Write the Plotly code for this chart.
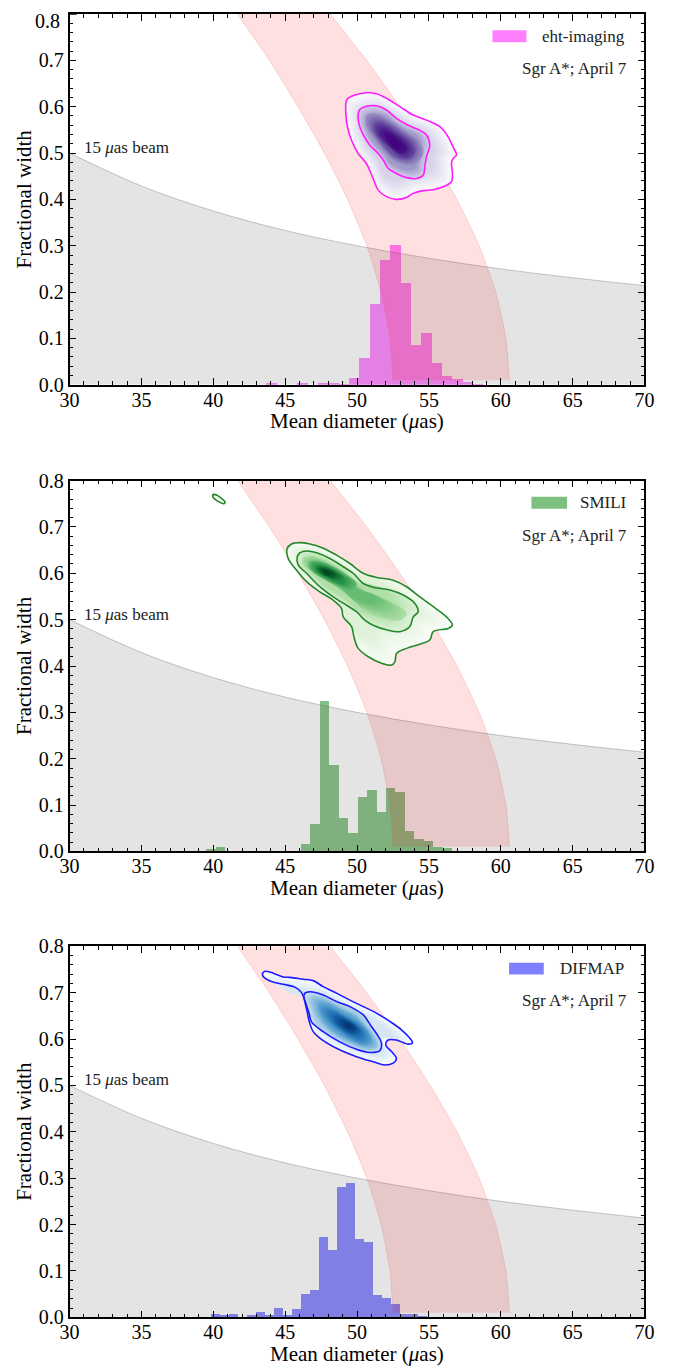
import plotly.graph_objects as go

# ---------------- data ----------------
X_TICKS = [30, 35, 40, 45, 50, 55, 60, 65, 70]
Y_TICKS = [0.0, 0.1, 0.2, 0.3, 0.4, 0.5, 0.6, 0.7, 0.8]

BEAM_D = [30, 35, 40, 45, 50, 55, 60, 65, 70]
BEAM_W = [0.500, 0.429, 0.375, 0.333, 0.300, 0.273, 0.250, 0.231, 0.214]

BAND_W = [0.01, 0.1, 0.2, 0.3, 0.4, 0.5, 0.6, 0.7, 0.8, 0.86]
BAND_LEFT = [52.50, 52.29, 51.67, 50.68, 49.34, 47.73, 45.89, 43.90, 41.70, 40.60]
BAND_RIGHT = [60.60, 60.36, 59.65, 58.49, 56.95, 55.09, 52.97, 50.67, 48.15, 46.90]

LABELS = ["eht-imaging", "SMILI", "DIFMAP"]
SUBTITLE = "Sgr A*; April 7"

# histograms: first bin edge, bin width, heights
H1_START, H1_WIDTH = 43.65, 0.72
H1_VALS = [0.003, 0, 0, 0.004, 0, 0.003, 0.004, 0.002, 0.014, 0.057, 0.175, 0.270,
           0.302, 0.219, 0.086, 0.111, 0.046, 0.018, 0.012, 0.006, 0.002]
H2_START, H2_WIDTH = 38.17, 0.658
H2_VALS = [0.002, 0, 0.006, 0.011, 0, 0, 0, 0, 0, 0, 0, 0, 0.0165, 0.060, 0.325, 0.187,
           0.073, 0.041, 0.119, 0.134, 0.0855, 0.138, 0.129, 0.045, 0.029, 0.024, 0.0115, 0.0086]
H3_START, H3_WIDTH = 39.81, 0.626
H3_VALS = [0.0065, 0.004, 0.007, 0.001, 0.005, 0.0115, 0.005, 0.019, 0.004, 0.0165, 0.050,
           0.059, 0.1725, 0.1445, 0.280, 0.290, 0.168, 0.1625, 0.047, 0.042, 0.029, 0.006, 0.007, 0.003]

# panel 1 density contours (eht-imaging)
P1_PEAK = (52.55, 0.522)
P1_OUT_X = [49.22, 49.31, 49.85, 50.66, 51.35, 52.16, 52.98, 53.90, 54.83, 55.76, 56.34, 56.68, 56.92,
            56.68, 56.57, 56.64, 56.57, 56.11, 55.29, 54.60, 53.90, 53.44, 52.74, 52.05, 51.47, 51.12,
            50.66, 50.08, 49.61, 49.31, 49.22]
P1_OUT_Y = [0.607, 0.616, 0.625, 0.630, 0.628, 0.616, 0.600, 0.582, 0.571, 0.557, 0.535, 0.513, 0.496,
            0.488, 0.478, 0.456, 0.438, 0.429, 0.421, 0.419, 0.413, 0.404, 0.400, 0.406, 0.420, 0.445,
            0.477, 0.499, 0.528, 0.560, 0.585]
P1_IN_X = [50.08, 50.19, 50.66, 51.35, 52.05, 52.74, 53.56, 54.37, 54.83, 55.06, 54.83, 54.71, 54.60,
           54.13, 53.44, 52.74, 52.16, 51.82, 51.47, 50.89, 50.43, 50.12]
P1_IN_Y = [0.585, 0.594, 0.601, 0.602, 0.593, 0.575, 0.560, 0.549, 0.539, 0.517, 0.492, 0.470, 0.452,
           0.445, 0.447, 0.456, 0.467, 0.485, 0.499, 0.517, 0.539, 0.564]
P1_C1_X = [50.66, 51.35, 52.28, 53.44, 54.37, 54.60, 54.13, 53.44, 52.51, 51.82, 51.12, 50.61]
P1_C1_Y = [0.582, 0.585, 0.571, 0.546, 0.524, 0.499, 0.477, 0.474, 0.485, 0.506, 0.535, 0.560]
P1_C2_X = [51.24, 51.82, 52.74, 53.67, 54.02, 53.67, 52.98, 52.28, 51.58, 51.19]
P1_C2_Y = [0.564, 0.564, 0.546, 0.524, 0.503, 0.488, 0.492, 0.510, 0.531, 0.549]
P1_C3_X = [51.93, 52.51, 53.21, 53.44, 53.09, 52.51, 52.05]
P1_C3_Y = [0.546, 0.539, 0.521, 0.506, 0.500, 0.510, 0.528]

# panel 2 density contours (SMILI)
P2_PEAK = (47.80, 0.602)
P2_OUT_X = [45.14, 45.44, 46.02, 46.72, 47.65, 48.57, 49.50, 50.43, 51.36, 52.51, 53.44, 54.37, 55.30,
            56.22, 56.64, 56.34, 55.30, 55.06, 54.37, 53.44, 52.75, 52.63, 52.40, 51.70, 50.78, 50.08,
            49.78, 49.62, 49.04, 48.92, 48.34, 47.41, 46.49, 45.79, 45.21]
P2_OUT_Y = [0.654, 0.663, 0.666, 0.663, 0.654, 0.639, 0.621, 0.600, 0.591, 0.585, 0.571, 0.549, 0.528,
            0.506, 0.488, 0.481, 0.474, 0.456, 0.447, 0.438, 0.427, 0.409, 0.402, 0.406, 0.420, 0.438,
            0.463, 0.485, 0.506, 0.524, 0.542, 0.560, 0.582, 0.607, 0.632]
P2_IN_X = [45.84, 46.02, 46.49, 47.18, 48.11, 49.04, 49.73, 50.43, 51.12, 52.28, 53.21, 54.02, 54.25,
           53.91, 53.67, 52.98, 52.05, 51.12, 50.54, 49.96, 49.27, 48.34, 47.41, 46.49, 45.91]
P2_IN_Y = [0.636, 0.644, 0.648, 0.644, 0.632, 0.614, 0.600, 0.578, 0.570, 0.564, 0.553, 0.535, 0.517,
           0.506, 0.485, 0.474, 0.478, 0.488, 0.499, 0.517, 0.531, 0.549, 0.571, 0.600, 0.618]
P2_ISLAND_X = [40.00, 40.23, 40.58, 40.81, 40.74, 40.46, 40.11, 39.95]
P2_ISLAND_Y = [0.770, 0.769, 0.761, 0.754, 0.750, 0.753, 0.760, 0.766]
P2_C1_X = [46.26, 46.95, 48.11, 49.27, 50.20, 51.59, 52.98, 53.44, 52.98, 51.82, 50.66, 49.50, 48.11, 46.95, 46.30]
P2_C1_Y = [0.632, 0.636, 0.621, 0.600, 0.571, 0.542, 0.528, 0.513, 0.499, 0.503, 0.517, 0.549, 0.578, 0.600, 0.618]
P2_C2_X = [46.72, 47.41, 48.34, 49.27, 49.96, 49.73, 48.81, 47.88, 47.07, 46.67]
P2_C2_Y = [0.625, 0.625, 0.614, 0.596, 0.578, 0.564, 0.571, 0.585, 0.600, 0.613]
P2_C3_X = [47.18, 47.88, 48.57, 49.04, 48.69, 48.00, 47.37]
P2_C3_Y = [0.614, 0.613, 0.603, 0.591, 0.585, 0.591, 0.601]
P2_C4_X = [47.53, 48.00, 48.34, 48.23, 47.76]
P2_C4_Y = [0.608, 0.607, 0.600, 0.594, 0.598]

# panel 3 density contours (DIFMAP)
P3_PEAK = (49.40, 0.628)
P3_OUT_X = [43.43, 43.59, 44.17, 44.86, 45.33, 46.25, 46.95, 47.64, 48.57, 49.50, 50.43, 51.35, 52.28,
            53.09, 53.67, 53.86, 53.55, 52.74, 52.16, 52.00, 52.40, 52.74, 52.51, 51.93, 51.12, 49.96,
            48.57, 47.41, 46.95, 46.67, 46.50, 46.14, 45.67, 44.86, 44.05, 43.47]
P3_OUT_Y = [0.742, 0.746, 0.742, 0.734, 0.733, 0.729, 0.726, 0.713, 0.699, 0.684, 0.670, 0.656, 0.638,
            0.620, 0.602, 0.592, 0.589, 0.598, 0.598, 0.587, 0.573, 0.558, 0.548, 0.544, 0.551, 0.562,
            0.580, 0.602, 0.616, 0.638, 0.663, 0.700, 0.712, 0.718, 0.724, 0.735]
P3_IN_X = [46.37, 46.72, 47.64, 48.57, 49.50, 50.43, 50.77, 51.00, 51.35, 51.70, 51.58, 50.89, 49.96,
           48.80, 47.64, 46.83, 46.67, 46.44, 46.30]
P3_IN_Y = [0.699, 0.702, 0.695, 0.681, 0.670, 0.652, 0.638, 0.627, 0.612, 0.591, 0.575, 0.571, 0.578,
           0.594, 0.616, 0.637, 0.655, 0.677, 0.691]
P3_C1_X = [46.83, 47.64, 48.80, 49.96, 50.66, 51.24, 51.47, 50.89, 49.73, 48.57, 47.64, 47.06, 46.76]
P3_C1_Y = [0.691, 0.688, 0.670, 0.652, 0.630, 0.605, 0.582, 0.576, 0.587, 0.605, 0.627, 0.652, 0.677]
P3_C2_X = [47.41, 48.11, 49.03, 50.08, 50.77, 51.00, 50.54, 49.61, 48.69, 47.88, 47.41]
P3_C2_Y = [0.673, 0.670, 0.655, 0.637, 0.616, 0.594, 0.587, 0.598, 0.616, 0.637, 0.659]
P3_C3_X = [48.34, 49.03, 49.85, 50.31, 50.08, 49.38, 48.69, 48.29]
P3_C3_Y = [0.652, 0.647, 0.632, 0.616, 0.607, 0.612, 0.627, 0.641]
P3_C4_X = [48.92, 49.50, 49.96, 49.78, 49.22, 48.87]
P3_C4_Y = [0.640, 0.635, 0.623, 0.617, 0.623, 0.632]

# ---------------- styling ----------------
FONT = "Liberation Serif"
# page body has an 8px margin, so the figure is 672x1360 placed at (8, 8)
FIG_W, FIG_H = 672, 1360
X_DOMAIN = [0.09167, 0.94717]
Y_DOMAINS = [[0.72294, 0.99559], [0.37978, 0.65257], [0.03728, 0.31007]]
PX_PER_X, PX_PER_Y = 14.38, 463.75   # pixel scale, used only to measure shape sizes

BAR_COLORS = ["rgba(255,0,255,0.5)", "rgba(0,128,0,0.5)", "rgba(0,0,255,0.5)"]
LINE_COLORS = ["#ff1aff", "#22882a", "#1a1aff"]
# colour at the start of each level (outer, inner, cores...) and the colour at the peak
SHADES = [
    ["#fbfbfd", "#d3d0e7", "#9a92c6", "#64499f", "#471285", "#3f007d"],
    ["#f8fcf6", "#dcf1d6", "#aadda2", "#5fb96c", "#1f8a42", "#0a5a28", "#00441b"],
    ["#f8fbff", "#d3e4f3", "#a0cae3", "#559fce", "#1f6eb3", "#0d4a8f", "#08306b"],
]
LEGEND_PATCH = [(0.7356, 0.7947), (0.8034, 0.8653), (0.7644, 0.8248)]
LEGEND_TEXT_X = [0.818, 0.8844, 0.849]
STEPS = 10


def hex2rgb(h):
    h = h.lstrip("#")
    return tuple(int(h[k:k + 2], 16) for k in (0, 2, 4))


def lerp_color(a, b, t):
    ca, cb = hex2rgb(a), hex2rgb(b)
    return "rgb(%d,%d,%d)" % tuple(round(ca[k] + (cb[k] - ca[k]) * t) for k in range(3))


def area(xs, ys):
    s = 0.0
    n = len(xs)
    for k in range(n):
        x1, y1 = xs[k] * PX_PER_X, ys[k] * PX_PER_Y
        x2, y2 = xs[(k + 1) % n] * PX_PER_X, ys[(k + 1) % n] * PX_PER_Y
        s += x1 * y2 - x2 * y1
    return abs(s) / 2


def closed(xs, ys):
    return list(xs) + [xs[0], xs[1]], list(ys) + [ys[0], ys[1]]


def fill_trace(xs, ys, color, ax):
    cx, cy = closed(xs, ys)
    return go.Scatter(x=cx, y=cy, mode="lines", fill="toself", fillcolor=color,
                      line=dict(color=color, width=0.5, shape="spline", smoothing=1.0),
                      xaxis=ax[0], yaxis=ax[1], hoverinfo="skip", showlegend=False)


def outline(xs, ys, color, ax, lw=1.6):
    cx, cy = closed(xs, ys)
    return go.Scatter(x=cx, y=cy, mode="lines",
                      line=dict(color=color, width=lw, shape="spline", smoothing=1.0),
                      xaxis=ax[0], yaxis=ax[1], hoverinfo="skip", showlegend=False)


def shrink(xs, ys, peak, s):
    return ([peak[0] + (x - peak[0]) * s for x in xs], [peak[1] + (y - peak[1]) * s for y in ys])


hists = [(H1_START, H1_WIDTH, H1_VALS), (H2_START, H2_WIDTH, H2_VALS), (H3_START, H3_WIDTH, H3_VALS)]
contours = [
    dict(peak=P1_PEAK, levels=[(P1_OUT_X, P1_OUT_Y), (P1_IN_X, P1_IN_Y), (P1_C1_X, P1_C1_Y),
                               (P1_C2_X, P1_C2_Y), (P1_C3_X, P1_C3_Y)], extra=[]),
    dict(peak=P2_PEAK, levels=[(P2_OUT_X, P2_OUT_Y), (P2_IN_X, P2_IN_Y), (P2_C1_X, P2_C1_Y),
                               (P2_C2_X, P2_C2_Y), (P2_C3_X, P2_C3_Y), (P2_C4_X, P2_C4_Y)],
         extra=[(P2_ISLAND_X, P2_ISLAND_Y)]),
    dict(peak=P3_PEAK, levels=[(P3_OUT_X, P3_OUT_Y), (P3_IN_X, P3_IN_Y), (P3_C1_X, P3_C1_Y),
                               (P3_C2_X, P3_C2_Y), (P3_C3_X, P3_C3_Y), (P3_C4_X, P3_C4_Y)], extra=[]),
]

fig = go.Figure()
annotations = []
shapes = []
layout_axes = {}

for i in range(3):
    sfx = "" if i == 0 else str(i + 1)
    ax = ("x" + sfx, "y" + sfx)
    xdom = "x" + sfx + " domain"
    ydom = "y" + sfx + " domain"

    # beam region
    fig.add_trace(go.Scatter(
        x=BEAM_D, y=BEAM_W, mode="lines", fill="tozeroy",
        fillcolor="rgba(128,128,128,0.21)",
        line=dict(color="rgba(100,100,100,0.35)", width=1, shape="spline"),
        xaxis=ax[0], yaxis=ax[1], hoverinfo="skip", showlegend=False))

    # histogram
    start, width, vals = hists[i]
    centers = [start + (k + 0.5) * width for k in range(len(vals))]
    fig.add_trace(go.Bar(
        x=centers, y=vals, width=width, marker=dict(color=BAR_COLORS[i], line=dict(width=0)),
        xaxis=ax[0], yaxis=ax[1], hoverinfo="skip", showlegend=False))

    # band
    bx = BAND_LEFT + BAND_RIGHT[::-1]
    by = BAND_W + BAND_W[::-1]
    fig.add_trace(go.Scatter(
        x=bx, y=by, mode="lines", fill="toself", fillcolor="rgba(255,0,0,0.12)",
        line=dict(color="rgba(235,90,90,0.22)", width=1, shape="spline", smoothing=0.6),
        xaxis=ax[0], yaxis=ax[1], hoverinfo="skip", showlegend=False))

    # density: graded fills between successive levels
    c = contours[i]
    sh = SHADES[i]
    peak = c["peak"]
    for ex in c["extra"]:
        fig.add_trace(fill_trace(ex[0], ex[1], sh[0], ax))
    levels = c["levels"]
    for k, (lx, ly) in enumerate(levels):
        if k + 1 < len(levels):
            s_end = (area(*levels[k + 1]) / area(lx, ly)) ** 0.5
        else:
            s_end = 0.08
        for j in range(STEPS):
            t = j / STEPS
            s = 1 - t * (1 - s_end)
            xs, ys = shrink(lx, ly, peak, s)
            fig.add_trace(fill_trace(xs, ys, lerp_color(sh[k], sh[k + 1], t), ax))
    # contour lines on top
    for ex in c["extra"]:
        fig.add_trace(outline(ex[0], ex[1], LINE_COLORS[i], ax))
    fig.add_trace(outline(levels[0][0], levels[0][1], LINE_COLORS[i], ax))
    fig.add_trace(outline(levels[1][0], levels[1][1], LINE_COLORS[i], ax))

    # axes
    common = dict(showline=True, linecolor="black", linewidth=1.5, mirror="allticks",
                  ticks="inside", ticklen=7, tickwidth=1.3, tickcolor="black",
                  showgrid=False, zeroline=False, automargin=False, ticklabeloverflow="allow",
                  tickfont=dict(family=FONT, size=20, color="black"))
    layout_axes["xaxis" + sfx] = dict(
        common, domain=X_DOMAIN, range=[30, 70], tickmode="array", tickvals=X_TICKS,
        ticktext=[str(v) for v in X_TICKS], anchor=ax[1], ticklabelstandoff=-4,
        minor=dict(ticks="inside", ticklen=4, tickwidth=1, tickcolor="black", dtick=1, tick0=30))
    # the top panel's 0.8 label sits at the page edge; it is drawn separately just below the edge
    yvals = Y_TICKS[:-1] if i == 0 else Y_TICKS
    layout_axes["yaxis" + sfx] = dict(
        common, domain=Y_DOMAINS[i], range=[0, 0.8], tickmode="array", tickvals=yvals,
        ticktext=["%.1f" % v for v in yvals], anchor=ax[0],
        minor=dict(ticks="inside", ticklen=4, tickwidth=1, tickcolor="black", dtick=0.02, tick0=0))
    if i == 0:
        shapes.append(dict(type="line", xref=xdom, yref=ax[1], x0=0, x1=0.0122, y0=Y_TICKS[-1],
                           y1=Y_TICKS[-1], line=dict(color="black", width=1.3)))
        annotations.append(dict(text="%.1f" % Y_TICKS[-1], xref=xdom, yref="paper",
                                x=-0.0135, y=1.0, xanchor="right", yanchor="top", showarrow=False,
                                font=dict(family=FONT, size=20, color="black")))

    # axis titles
    annotations.append(dict(text="Mean diameter (<i>μ</i>as)", xref=xdom, yref=ydom,
                            x=0.5, y=-0.098, xanchor="center", yanchor="middle", showarrow=False,
                            font=dict(family=FONT, size=21, color="black")))
    annotations.append(dict(text="Fractional width", xref=xdom, yref=ydom, textangle=-90,
                            x=-0.0793, y=0.5, xanchor="center", yanchor="middle", showarrow=False,
                            font=dict(family=FONT, size=21, color="black")))
    # beam label
    annotations.append(dict(text="15 <i>μ</i>as beam", xref=ax[0], yref=ax[1],
                            x=30.84, y=0.512, xanchor="left", yanchor="middle", showarrow=False,
                            font=dict(family=FONT, size=17, color="#222222")))
    # legend
    px0, px1 = LEGEND_PATCH[i]
    shapes.append(dict(type="rect", xref=xdom, yref=ydom, x0=px0, x1=px1, y0=0.924, y1=0.956,
                       fillcolor=BAR_COLORS[i], line=dict(width=0)))
    annotations.append(dict(text=LABELS[i], xref=xdom, yref=ydom, x=LEGEND_TEXT_X[i], y=0.94,
                            xanchor="left", yanchor="middle", showarrow=False,
                            font=dict(family=FONT, size=17, color="#222222")))
    annotations.append(dict(text=SUBTITLE, xref=xdom, yref=ydom, x=0.9731, y=0.853,
                            xanchor="right", yanchor="middle", showarrow=False,
                            font=dict(family=FONT, size=17, color="#222222")))

fig.update_layout(
    width=FIG_W, height=FIG_H, margin=dict(l=0, r=0, t=0, b=0),
    paper_bgcolor="white", plot_bgcolor="white", showlegend=False,
    barmode="overlay", bargap=0,
    annotations=annotations, shapes=shapes, font=dict(family=FONT),
    **layout_axes)

fig.write_html("out.html")
